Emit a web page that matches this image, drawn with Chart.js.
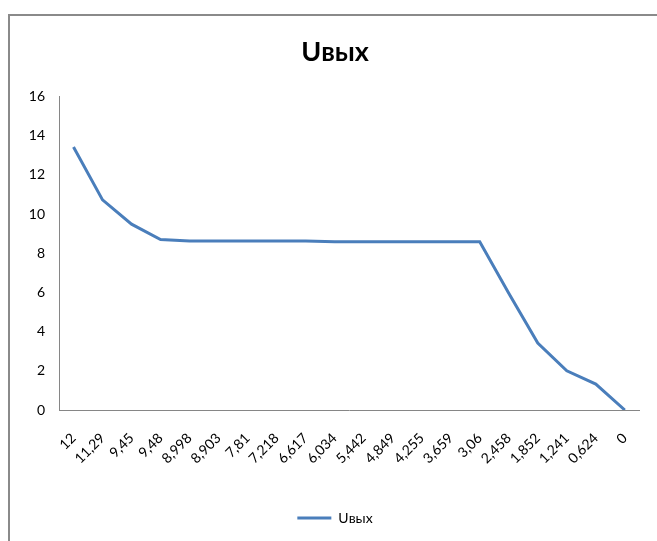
<!DOCTYPE html>
<html>
<head>
<meta charset="utf-8">
<script src="https://cdn.jsdelivr.net/npm/chart.js@4/dist/chart.umd.min.js"></script>
<style>
    html, body { margin: 0; padding: 0; background: #fff; overflow: hidden; width: 657px; height: 541px; }
    .lineTop { position: absolute; left: 8px; top: 14px; width: 649px; height: 2px; background: #8a8a8a; }
    .lineLeft { position: absolute; left: 8px; top: 14px; width: 2px; height: 527px; background: #8a8a8a; }
    .box { position: absolute; left: 10px; top: 16px; width: 647px; height: 525px; }
</style>
</head>
<body>
<div class="lineTop"></div>
<div class="lineLeft"></div>
<div class="box"><canvas id="uChart"></canvas></div>
<script>
// входное напряжение (подписи оси X)
const uIn = ["12", "11,29", "9,45", "9,48", "8,998", "8,903", "7,81", "7,218", "6,617", "6,034",
    "5,442", "4,849", "4,255", "3,659", "3,06", "2,458", "1,852", "1,241", "0,624", "0"];
// выходное напряжение
const uOut = [13.42, 10.72, 9.48, 8.7, 8.62, 8.62, 8.62, 8.62, 8.62, 8.58,
    8.58, 8.58, 8.58, 8.58, 8.58, 5.96, 3.42, 2.0, 1.32, 0];
const yTicks = [0, 2, 4, 6, 8, 10, 12, 14, 16];

const fontFamily = "Lato, 'Open Sans', sans-serif";
const axisColor = "#868686";

document.addEventListener("DOMContentLoaded", function () {
    const ctx = document.getElementById("uChart").getContext("2d");

    new Chart(ctx, {
        type: "line",
        data: {
            labels: uIn,
            datasets: [{
                label: "Uвых",
                data: uOut,
                borderColor: "#4a7ebb",
                backgroundColor: "#4a7ebb",
                borderWidth: 3,
                pointRadius: 0,
                tension: 0,
                fill: false,
            }],
        },
        options: {
            responsive: true,
            maintainAspectRatio: false,
            animation: false,
            layout: { padding: { left: 15, right: 12, top: 0, bottom: 6 } },
            scales: {
                x: {
                    offset: true,
                    grid: { display: false, drawTicks: false },
                    border: { display: true, color: axisColor, width: 1 },
                    ticks: {
                        color: "#000",
                        autoSkip: false,
                        maxRotation: 45,
                        minRotation: 45,
                        padding: 20,
                        font: { family: fontFamily, size: 14 },
                    },
                    afterFit: (scale) => { scale.height = 91; },
                },
                y: {
                    min: 0,
                    max: 16,
                    afterBuildTicks: (scale) => {
                        scale.ticks = yTicks.map((v) => ({ value: v }));
                    },
                    grid: { display: false, drawTicks: false },
                    border: { display: true, color: axisColor, width: 1 },
                    ticks: {
                        color: "#000",
                        padding: 14,
                        font: { family: fontFamily, size: 14 },
                    },
                    afterFit: (scale) => { scale.width = 34; },
                },
            },
            plugins: {
                title: {
                    display: true,
                    text: "Uвых",
                    color: "#000",
                    font: { family: fontFamily, size: 27, weight: "bold" },
                    padding: { top: 20, bottom: 28 },
                },
                legend: {
                    position: "bottom",
                    labels: {
                        color: "#000",
                        usePointStyle: true,
                        pointStyle: "line",
                        pointStyleWidth: 34,
                        boxHeight: 3,
                        padding: 10,
                        font: { family: fontFamily, size: 14 },
                    },
                },
                tooltip: { enabled: false },
            },
        },
    });
});
</script>
</body>
</html>
